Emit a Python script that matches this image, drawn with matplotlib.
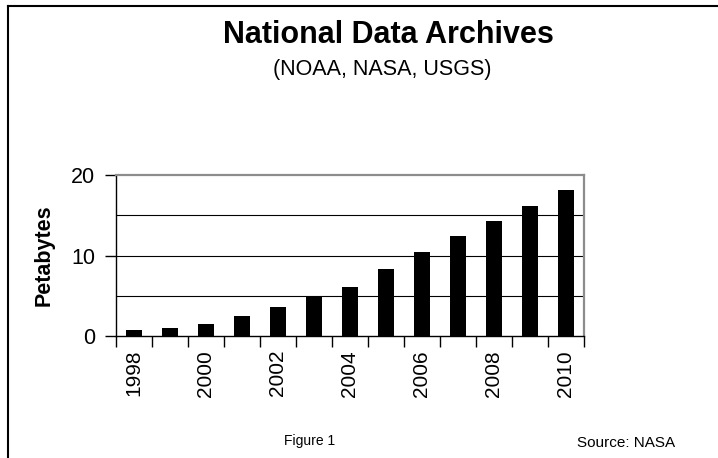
import numpy as np
import matplotlib
matplotlib.use("Agg")
import matplotlib.pyplot as plt
from matplotlib.lines import Line2D
from matplotlib.ticker import FixedLocator

plt.rcParams['font.family'] = ['Liberation Sans', 'DejaVu Sans']

# Data
years = [1998, 1999, 2000, 2001, 2002, 2003, 2004, 2005, 2006, 2007, 2008, 2009, 2010]
petabytes = [0.8, 1.0, 1.5, 2.5, 3.6, 4.8, 6.1, 8.3, 10.4, 12.4, 14.3, 16.2, 18.1]
year_labels = [str(y) if y % 2 == 0 else "" for y in years]

fig = plt.figure(figsize=(7.18, 4.58), dpi=100)
ax = fig.add_axes([116 / 718, 1 - 336 / 458, 468 / 718, 161 / 458])

x = np.arange(len(years))
ax.bar(x, petabytes, width=0.43, color="black", zorder=3)

# gridlines at 5, 10, 15
for g in [5, 10, 15]:
    ax.axhline(g, color="black", lw=0.8, zorder=1)

ax.set_ylim(0, 20)
ax.set_xlim(-0.5, len(years) - 0.5)
ax.set_yticks([0, 10, 20])
ax.tick_params(axis="y", direction="out", length=8, width=1, labelsize=15.5, pad=7)

# category labels (even years), ticks between categories
ax.set_xticks(x)
ax.set_xticklabels(year_labels, rotation=90, fontsize=15)
ax.tick_params(axis="x", which="major", length=0, pad=10)
ax.xaxis.set_minor_locator(FixedLocator(np.arange(-0.5, len(years), 1.0)))
ax.tick_params(axis="x", which="minor", direction="out", length=8, width=1)

for side in ["top", "right"]:
    ax.spines[side].set_color("#8c8c8c")
    ax.spines[side].set_linewidth(1.6)
for side in ["left", "bottom"]:
    ax.spines[side].set_color("black")
    ax.spines[side].set_linewidth(1.0)

ax.set_ylabel("Petabytes", fontsize=15.5, fontweight="bold")
ax.yaxis.set_label_coords(-0.132, 0.5)

fig.text(388 / 718, 1 - 43 / 458, "National Data Archives", ha="center", va="baseline",
         fontsize=22, fontweight="bold")
fig.text(382 / 718, 1 - 75 / 458, "(NOAA, NASA, USGS)", ha="center", va="baseline",
         fontsize=15.5)
fig.text(310 / 718, 1 - 445 / 458, "Figure 1", ha="center", va="baseline", fontsize=10)
fig.text(626 / 718, 1 - 447 / 458, "Source: NASA", ha="center", va="baseline", fontsize=11)

# outer frame (left and top edges)
fig.add_artist(Line2D([7.5 / 718, 1], [1 - 5.5 / 458, 1 - 5.5 / 458], color="black", lw=1.5,
                      transform=fig.transFigure))
fig.add_artist(Line2D([7.5 / 718, 7.5 / 718], [0, 1 - 5.5 / 458], color="black", lw=1.5,
                      transform=fig.transFigure))

fig.savefig("out.png", dpi=100)
